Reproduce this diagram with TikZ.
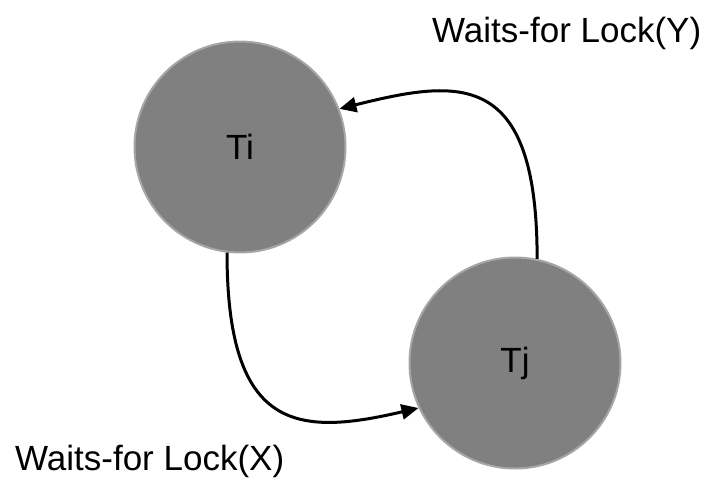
\documentclass[tikz,border=0pt]{standalone}
\usepackage{fontspec}
\setmainfont{Liberation Sans}
\usepackage{tikz}
\usetikzlibrary{arrows.meta, positioning}
\definecolor{nodegray}{RGB}{128,128,128}

\begin{document}
\begin{tikzpicture}[x=1pt, y=-1pt, >={Triangle[length=17pt, width=15pt]},
  trans/.style={circle, fill=nodegray, draw=nodegray!70, line width=2pt,
    minimum size=211pt, inner sep=0pt, font=\fontsize{35}{40}\selectfont},
  waits/.style={anchor=base west, inner sep=0pt, font=\fontsize{35}{40}\selectfont},
  link/.style={->, line width=3pt}]
\useasboundingbox (0,0) rectangle (707,477);

\node[trans] (Ti) at (240,147) {Ti};
\node[trans] (Tj) at (515,363) {Tj};
\node[waits] (LY) at (432,42) {Waits-for Lock(Y)};
\node[waits] (LX) at (15,470) {Waits-for Lock(X)};

\draw[link] (Ti.263.5) .. controls +(0,180) and +(-120,28) .. (Tj.205);
\draw[link] (Tj.78) .. controls +(0,-190) and +(120,-30) .. (Ti.21);
\end{tikzpicture}
\end{document}
